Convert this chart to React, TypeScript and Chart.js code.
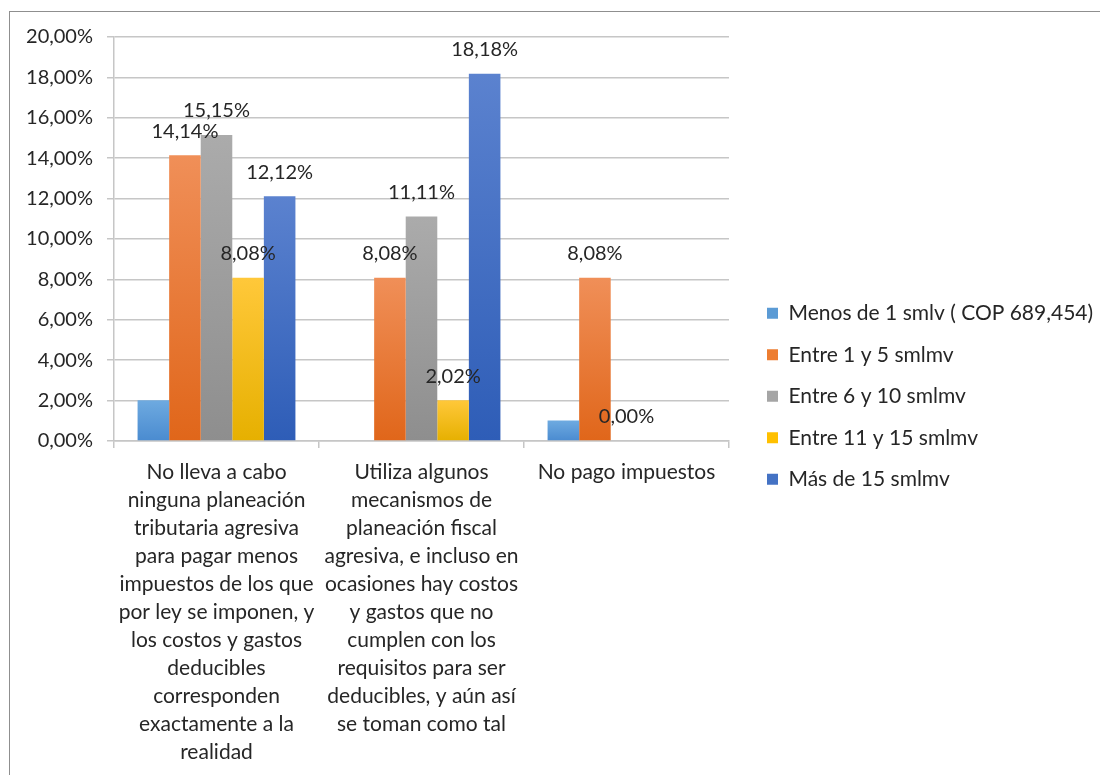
import React, { useEffect, useRef } from "react";
import { Chart, registerables } from "chart.js";

Chart.register(...registerables);

const categories: string[][] = [
  [
    "No lleva a cabo",
    "ninguna planeación",
    "tributaria agresiva",
    "para pagar menos",
    "impuestos de los que",
    "por ley se imponen, y",
    "los costos y gastos",
    "deducibles",
    "corresponden",
    "exactamente a la",
    "realidad",
  ],
  [
    "Utiliza algunos",
    "mecanismos de",
    "planeación fiscal",
    "agresiva, e incluso en",
    "ocasiones hay costos",
    "y gastos que no",
    "cumplen con los",
    "requisitos para ser",
    "deducibles, y aún así",
    "se toman como tal",
  ],
  ["No pago impuestos"],
];

const seriesNames = [
  "Menos de 1 smlv ( COP 689,454)",
  "Entre 1 y 5 smlmv",
  "Entre 6 y 10 smlmv",
  "Entre 11 y 15 smlmv",
  "Más de 15 smlmv",
];

const menosDe1 = [2.02, null, 1.01];
const entre1y5 = [14.14, 8.08, 8.08];
const entre6y10 = [15.15, 11.11, 0];
const entre11y15 = [8.08, 2.02, null];
const masDe15 = [12.12, 18.18, null];

const seriesValues = [menosDe1, entre1y5, entre6y10, entre11y15, masDe15];
const showValueLabels = [false, true, true, true, true];

const legendColors = ["#5b9bd5", "#ed7d31", "#a5a5a5", "#ffc000", "#4472c4"];
const gradientTop = ["#6eaae0", "#f08f58", "#ababab", "#ffc83a", "#5b82cf"];
const gradientBottom = ["#4a8bd0", "#e0661a", "#8e8e8e", "#e6b000", "#2e5db7"];

const yTicksMin = 0;
const yTicksMax = 20;
const yTicksStep = 2;

const FONT = "Lato, 'Open Sans', sans-serif";
const TEXT = "#262626";
const GRID = "#c6c6c6";

const fmtPct = (v: number) => v.toFixed(2).replace(".", ",") + "%";

const valueLabelPlugin = {
  id: "valueLabels",
  afterDatasetsDraw(chart: any) {
    const ctx = chart.ctx;
    ctx.save();
    ctx.font = `20px ${FONT}`;
    ctx.fillStyle = TEXT;
    ctx.textAlign = "center";
    ctx.textBaseline = "middle";
    chart.data.datasets.forEach((ds: any, di: number) => {
      if (!showValueLabels[di]) return;
      const meta = chart.getDatasetMeta(di);
      meta.data.forEach((bar: any, i: number) => {
        const v = ds.data[i];
        if (v === null || v === undefined) return;
        ctx.fillText(fmtPct(v), bar.x, bar.y - 24);
      });
    });
    ctx.restore();
  },
};

export default function App() {
  const canvasRef = useRef<HTMLCanvasElement | null>(null);

  useEffect(() => {
    if (!canvasRef.current) return;
    const datasets = seriesNames.map((name, si) => ({
      label: name,
      data: seriesValues[si],
      backgroundColor: (c: any) => {
        const chart = c.chart;
        if (c.type !== "data" || !chart.chartArea || !chart.scales.y) return legendColors[si];
        const v = c.raw;
        if (v === null || v === undefined) return legendColors[si];
        const ys = chart.scales.y;
        const top = ys.getPixelForValue(v);
        const bottom = ys.getPixelForValue(0);
        if (!isFinite(top) || !isFinite(bottom) || bottom - top < 1) return legendColors[si];
        const g = chart.ctx.createLinearGradient(0, top, 0, bottom);
        g.addColorStop(0, gradientTop[si]);
        g.addColorStop(1, gradientBottom[si]);
        return g;
      },
      borderWidth: 0,
      categoryPercentage: 0.77,
      barPercentage: 1,
    }));

    const chart = new Chart(canvasRef.current, {
      type: "bar",
      data: { labels: categories as any, datasets: datasets as any },
      options: {
        animation: false,
        responsive: false,
        maintainAspectRatio: false,
        layout: { padding: { top: 17.5, right: 0, bottom: 0, left: 0 } },
        plugins: {
          tooltip: { enabled: false },
          legend: {
            position: "right",
            align: "center",
            maxWidth: 353.5,
            labels: {
              font: { family: FONT, size: 21 },
              color: TEXT,
              boxWidth: 11,
              boxHeight: 11,
              padding: 20.5,
              generateLabels: (chart: any) =>
                chart.data.datasets.map((ds: any, i: number) => ({
                  text: ds.label,
                  fillStyle: legendColors[i],
                  strokeStyle: legendColors[i],
                  lineWidth: 0,
                  fontColor: TEXT,
                  datasetIndex: i,
                  hidden: false,
                })),
            },
          },
        },
        scales: {
          x: {
            grid: {
              display: true,
              drawOnChartArea: false,
              drawTicks: true,
              tickLength: 7,
              color: GRID,
              lineWidth: 1.5,
            },
            border: { display: true, color: GRID, width: 1.5 },
            ticks: {
              font: { family: FONT, size: 21, lineHeight: 1.3333 },
              color: TEXT,
              padding: 10,
              maxRotation: 0,
              minRotation: 0,
              autoSkip: false,
            },
            afterFit: (s: any) => {
              s.height = 334;
            },
          },
          gapTop: {
            type: "linear",
            position: "top",
            display: true,
            grid: { display: false, drawTicks: false },
            border: { display: false },
            ticks: { display: false },
            afterFit: (s: any) => {
              s.height = 19.5;
            },
          },
          y: {
            min: yTicksMin,
            max: yTicksMax,
            grid: {
              color: GRID,
              lineWidth: 1.5,
              drawTicks: true,
              tickLength: 7,
            },
            border: { display: true, color: GRID, width: 1.5 },
            ticks: {
              stepSize: yTicksStep,
              font: { family: FONT, size: 20 },
              color: TEXT,
              padding: 14,
              callback: (v: any) => fmtPct(Number(v)),
            },
            afterFit: (s: any) => {
              s.width = 114;
            },
          },
          gap: {
            type: "linear",
            position: "right",
            display: true,
            grid: { display: false, drawTicks: false },
            border: { display: false },
            ticks: { display: false },
            afterFit: (s: any) => {
              s.width = 17.5;
            },
          },
        },
      } as any,
      plugins: [valueLabelPlugin],
    });
    return () => chart.destroy();
  }, []);

  return (
    <div style={{ position: "absolute", left: 0, top: 0, width: 1100, height: 775, overflow: "hidden", background: "#fff" }}>
      <div
        style={{
          position: "absolute",
          left: 9,
          top: 11,
          width: 1200,
          height: 900,
          borderTop: "1.5px solid #8f8f8f",
          borderLeft: "1.5px solid #8f8f8f",
        }}
      />
      <canvas ref={canvasRef} width={1100} height={775} style={{ position: "absolute", left: 0, top: 0, display: "block" }} />
    </div>
  );
}
